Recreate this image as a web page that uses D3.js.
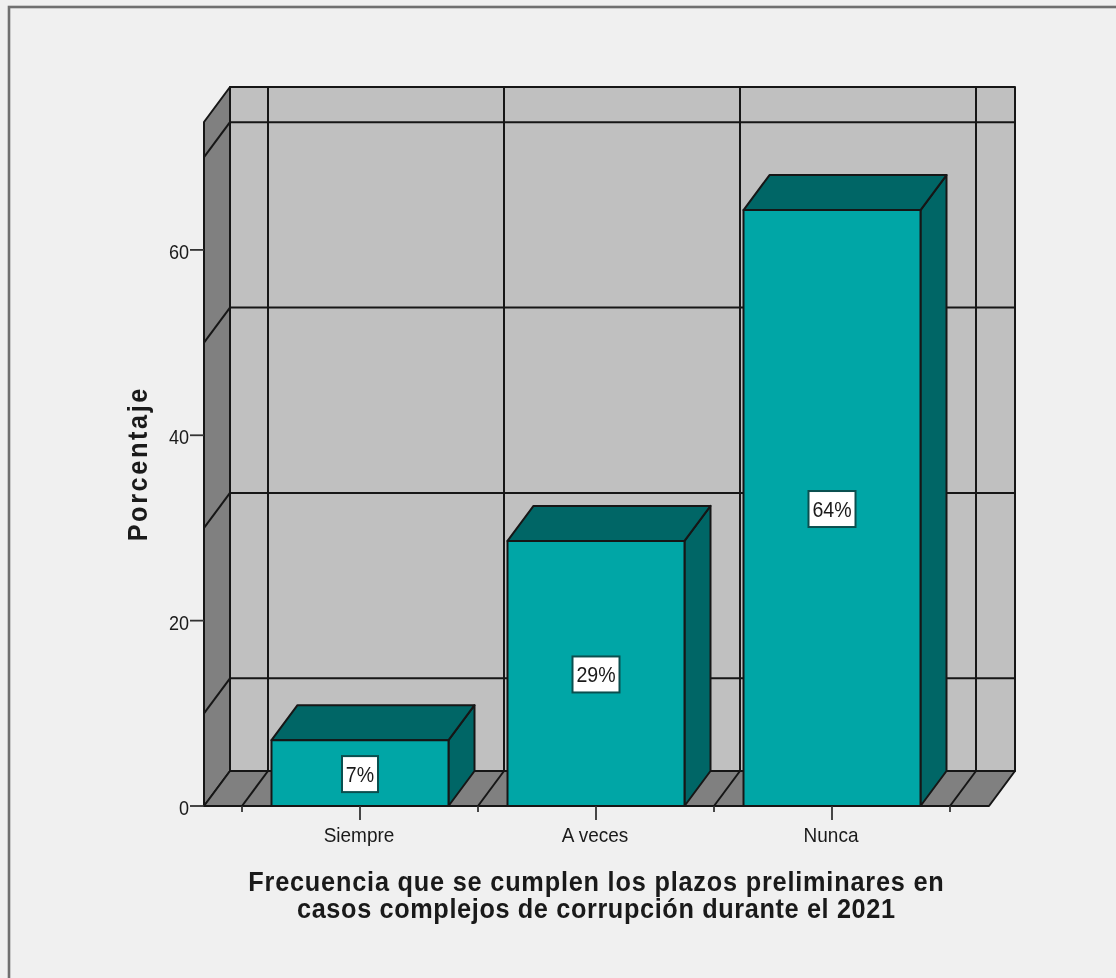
<!DOCTYPE html>
<html><head><meta charset="utf-8">
<script src="https://cdn.jsdelivr.net/npm/d3@7"></script>
<style>html,body{margin:0;padding:0;background:#f0f0f0;overflow:hidden}svg{display:block;filter:blur(.45px)}text{font-family:"Liberation Sans",Arial,sans-serif;fill:#1a1a1a}</style>
</head><body><svg id="c" width="1116" height="978"></svg>
<script>
const categories=["Siempre","A veces","Nunca"];
const values=[7.1,28.6,64.3];
const labels=["7%","29%","64%"];
const yTicks=[0,20,40,60];
const yGrid=[10,30,50,70];
const yMax=73.8;
const yTitle="Porcentaje";
const xTitle=["Frecuencia que se cumplen los plazos preliminares en","casos complejos de corrupción durante el 2021"];

const svg=d3.select("#c");
const dx=26,dy=-35;
const ink="#161616",sw=2;
const y=d3.scaleLinear().domain([0,yMax]).range([806,122]);
const x=d3.scaleBand().domain(categories).range([242,950]).paddingInner(.25).paddingOuter(.125);
const step=x.step();
const xLeft=204,xRight=989;
const edges=[242,242+step,242+2*step,242+3*step];
const poly=(pts,fill)=>svg.append("polygon").attr("points",pts.map(p=>p.join(",")).join(" ")).attr("fill",fill).attr("stroke",ink).attr("stroke-width",sw).attr("stroke-linejoin","round");
const seg=(a,b,w=sw,c=ink)=>svg.append("line").attr("x1",a[0]).attr("y1",a[1]).attr("x2",b[0]).attr("y2",b[1]).attr("stroke",c).attr("stroke-width",w);

// outer frame
svg.append("rect").attr("x",9).attr("y",7).attr("width",1200).attr("height",1200).attr("fill","#f0f0f0").attr("stroke","#707070").attr("stroke-width",2.6);

// walls
const yTop=y(yMax),yBot=y(0);
poly([[xLeft+dx,yTop+dy],[xRight+dx,yTop+dy],[xRight+dx,yBot+dy],[xLeft+dx,yBot+dy]],"#c0c0c0");
poly([[xLeft,yTop],[xLeft+dx,yTop+dy],[xLeft+dx,yBot+dy],[xLeft,yBot]],"#808080");
poly([[xLeft,yBot],[xLeft+dx,yBot+dy],[xRight+dx,yBot+dy],[xRight,yBot]],"#808080");

// gridlines
yGrid.forEach(v=>{
  seg([xLeft,y(v)],[xLeft+dx,y(v)+dy]);
  seg([xLeft+dx,y(v)+dy],[xRight+dx,y(v)+dy]);
});
edges.forEach(e=>{
  seg([e,yBot],[e+dx,yBot+dy]);
  seg([e+dx,yBot+dy],[e+dx,yTop+dy]);
});

// bars
categories.forEach((c,i)=>{
  const x0=x(c),x1=x0+x.bandwidth(),yt=y(values[i]);
  poly([[x1,yt],[x1+dx,yt+dy],[x1+dx,yBot+dy],[x1,yBot]],"#006666");
  poly([[x0,yt],[x0+dx,yt+dy],[x1+dx,yt+dy],[x1,yt]],"#006666");
  poly([[x0,yt],[x1,yt],[x1,yBot],[x0,yBot]],"#00a6a6");
});

// axes
seg([xLeft,yBot],[xRight,yBot]);
yTicks.forEach(v=>{
  seg([xLeft-14,y(v)],[xLeft,y(v)],1.8,"#333");
  svg.append("text").attr("transform",`translate(${xLeft-15},${y(v)+9}) scale(.88,1)`).attr("text-anchor","end").attr("font-size",20.5).text(v);
});
edges.forEach(e=>seg([e,yBot],[e,yBot+6],1.8,"#333"));
categories.forEach(c=>{
  const m=x(c)+x.bandwidth()/2;
  seg([m,yBot],[m,yBot+14],1.8,"#333");
  svg.append("text").attr("transform",`translate(${m-1},842) scale(.95,1)`).attr("text-anchor","middle").attr("font-size",20).text(c);
});

// value labels
categories.forEach((c,i)=>{
  const m=x(c)+x.bandwidth()/2,cy=(y(values[i])+yBot)/2+1;
  const w=labels[i].length==2?36:47;
  svg.append("rect").attr("x",m-w/2).attr("y",cy-18).attr("width",w).attr("height",36).attr("fill","#fff").attr("stroke","#0a4f4f").attr("stroke-width",2);
  svg.append("text").attr("transform",`translate(${m},${cy+8}) scale(.89,1)`).attr("text-anchor","middle").attr("font-size",22).text(labels[i]);
});

// titles
svg.append("text").attr("transform","translate(146.5,465) rotate(-90) scale(.92,1)").attr("text-anchor","middle").attr("font-size",27.5).attr("font-weight","bold").attr("textLength",166).attr("lengthAdjust","spacing").text(yTitle);
const xTitleLen=[756,650];
const xt=svg.append("text").attr("transform","translate(596,891) scale(.92,1)").attr("text-anchor","middle").attr("font-size",27.5).attr("font-weight","bold");
xTitle.forEach((t,i)=>{
  xt.append("tspan").attr("x",0).attr("y",i*27).attr("textLength",xTitleLen[i]).attr("lengthAdjust","spacing").text(t);
});
</script></body></html>
